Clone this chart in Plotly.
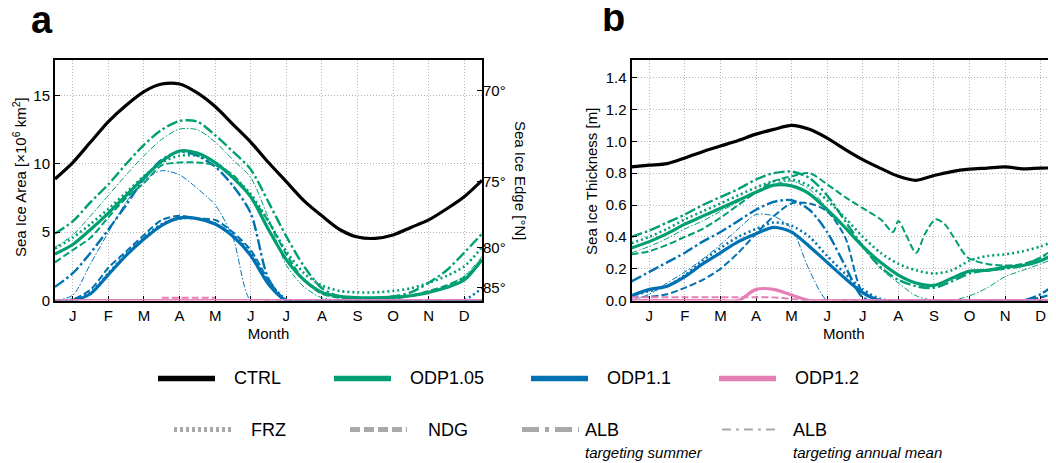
import math
import plotly.graph_objects as go

# the page body adds an 8 px left margin (vertical offset measured as 0),
# so the figure is laid out in reference pixels shifted by OFF_X
OFF_X, OFF_Y = 8, 0
W, H = 1056 - OFF_X, 463 - OFF_Y

MONTHS = ["J", "F", "M", "A", "M", "J", "J", "A", "S", "O", "N", "D"]
MONTH_TICKS = [0.5, 1.5, 2.5, 3.5, 4.5, 5.5, 6.5, 7.5, 8.5, 9.5, 10.5, 11.5]
EDGE_LATS = [70, 75, 80, 85]

# ---------------- panel a : sea-ice area (10^6 km^2) ----------------
X_A = [0, 0.5, 1, 1.5, 2, 2.5, 3, 3.5, 4, 4.5, 5, 5.5, 6, 6.5, 7, 7.5, 8, 8.5, 9, 9.5, 10, 10.5, 11, 11.5, 12]

ctrl_area = [8.9, 10.1, 11.6, 13.1, 14.3, 15.3, 15.85, 15.85, 15.2, 14.2, 12.9, 11.6, 10.1, 8.7, 7.3, 6.2, 5.2, 4.65, 4.55, 4.8, 5.35, 5.9, 6.7, 7.6, 8.8]

odp105_area = [3.4, 4.1, 5.2, 6.4, 7.7, 9.0, 10.2, 10.95, 10.8, 10.1, 9.0, 7.6, 5.2, 3.0, 1.5, 0.6, 0.3, 0.2, 0.2, 0.25, 0.35, 0.6, 0.95, 1.5, 3.0]
odp105_frz_area = [3.8, 4.6, 5.6, 6.7, 7.9, 9.1, 10.1, 10.6, 10.6, 10.1, 9.1, 7.8, 5.8, 3.6, 2.0, 1.1, 0.7, 0.6, 0.6, 0.7, 0.9, 1.3, 1.8, 2.5, 3.9]
odp105_ndg_area = [2.8, 3.7, 4.6, 6.1, 7.5, 8.6, 9.9, 10.1, 10.1, 9.9, 9.2, 7.6, 5.8, 3.4, 1.5, 0.5, 0.2, 0.15, 0.15, 0.2, 0.35, 0.7, 1.1, 1.7, 2.9]
odp105_albs_area = [4.9, 5.8, 7.2, 8.5, 10.0, 11.4, 12.5, 13.15, 13.1, 12.1, 10.9, 9.6, 7.2, 4.7, 2.5, 0.9, 0.3, 0.2, 0.2, 0.3, 0.6, 1.3, 2.2, 3.5, 4.9]
odp105_alba_area = [3.9, 4.8, 6.2, 7.7, 9.2, 10.6, 11.8, 12.55, 12.5, 11.6, 10.3, 9.0, 6.0, 2.6, 1.0, 0.2, 0.05, 0.05, 0.05, 0.1, 0.3, 0.6, 1.1, 1.8, 3.2]

odp11_area = [0, 0.02, 0.5, 1.9, 3.3, 4.5, 5.5, 6.05, 6.0, 5.6, 4.7, 3.3, 1.2, 0, 0, 0, 0, 0, 0, 0, 0, 0, 0, 0, 0]
odp11_frz_area = [0, 0.05, 0.6, 2.0, 3.4, 4.6, 5.6, 6.0, 6.0, 5.6, 4.8, 3.5, 1.4, 0.1, 0, 0, 0, 0, 0, 0, 0, 0, 0, 0.05, 0.9]
odp11_ndg_area = [0, 0.1, 0.8, 2.4, 3.6, 4.8, 5.9, 6.2, 6.0, 5.9, 5.0, 3.7, 1.5, 0, 0, 0, 0, 0, 0, 0, 0, 0, 0, 0, 0]
odp11_albs_area = [1.0, 2.0, 3.5, 5.2, 7.0, 8.9, 10.3, 10.9, 10.6, 9.8, 8.4, 6.4, 1.6, 0, 0, 0, 0, 0, 0, 0, 0, 0, 0, 0, 0]
odp11_alba_area = [0, 0.4, 2.7, 5.0, 7.2, 8.8, 9.5, 9.2, 8.2, 7.0, 4.6, 0, 0, 0, 0, 0, 0, 0, 0, 0, 0, 0, 0, 0, 0]

odp12_area = [0, 0, 0, 0, 0, 0, 0, 0, 0, 0, 0, 0, 0, 0, 0, 0, 0, 0, 0, 0, 0, 0, 0, 0, 0]
odp12_ndg_area = [None, None, None, None, None, None, 0.2, 0.2, 0.2, 0.2, None, None, None, None, None, None, None, None, None, None, None, None, None, None, None]

# ---------------- panel b : sea-ice thickness (m) ----------------
X_B = [0, 0.5, 1, 1.5, 2, 2.5, 3, 3.5, 4, 4.5, 5, 5.5, 6, 6.5, 7, 7.5, 8, 8.5, 9, 9.5, 10, 10.5, 11, 11.5, 11.95]

ctrl_thk = [0.84, 0.85, 0.86, 0.895, 0.935, 0.97, 1.005, 1.045, 1.075, 1.10, 1.075, 1.02, 0.95, 0.885, 0.83, 0.78, 0.755, 0.785, 0.81, 0.825, 0.832, 0.84, 0.827, 0.832, 0.832]

odp105_thk = [0.33, 0.37, 0.42, 0.48, 0.53, 0.58, 0.63, 0.68, 0.725, 0.72, 0.67, 0.57, 0.46, 0.34, 0.24, 0.16, 0.11, 0.095, 0.14, 0.185, 0.19, 0.21, 0.22, 0.25, 0.30]
odp105_frz_thk = [0.36, 0.40, 0.45, 0.51, 0.56, 0.61, 0.66, 0.71, 0.75, 0.76, 0.72, 0.63, 0.52, 0.40, 0.30, 0.23, 0.19, 0.17, 0.19, 0.25, 0.28, 0.29, 0.31, 0.34, 0.38]
odp105_albs_thk = [0.40, 0.44, 0.49, 0.54, 0.60, 0.65, 0.70, 0.76, 0.80, 0.81, 0.77, 0.66, 0.50, 0.34, 0.21, 0.13, 0.09, 0.08, 0.12, 0.17, 0.19, 0.20, 0.22, 0.27, 0.33]
odp105_alba_thk = [0.30, 0.34, 0.39, 0.45, 0.50, 0.56, 0.62, 0.68, 0.73, 0.75, 0.70, 0.58, 0.45, 0.33, 0.20, 0.11, 0.03, 0, 0, 0.03, 0.08, 0.15, 0.19, 0.23, 0.27]
X_B_NDG = [0, 0.5, 1, 1.5, 2, 2.5, 3, 3.5, 4, 4.5, 5, 5.5, 6, 6.5, 7, 7.35, 7.5, 7.7, 8.0, 8.25, 8.55, 8.8, 9.05, 9.45, 10, 10.5, 11, 11.5, 11.95]
odp105_ndg_thk = [0.29, 0.31, 0.35, 0.40, 0.45, 0.52, 0.60, 0.68, 0.75, 0.78, 0.80, 0.73, 0.65, 0.58, 0.51, 0.43, 0.50, 0.42, 0.30, 0.42, 0.51, 0.48, 0.40, 0.27, 0.23, 0.22, 0.23, 0.27, 0.34]

odp11_thk = [0.03, 0.07, 0.09, 0.15, 0.23, 0.30, 0.37, 0.42, 0.46, 0.43, 0.34, 0.24, 0.14, 0.05, 0, 0, 0, 0, 0, 0, 0, 0, 0, 0, 0]
odp11_frz_thk = [0.03, 0.06, 0.09, 0.16, 0.25, 0.33, 0.40, 0.45, 0.49, 0.47, 0.40, 0.28, 0.17, 0.07, 0.01, 0, 0, 0, 0, 0, 0, 0, 0, 0, 0]
odp11_ndg_thk = [0.02, 0.025, 0.04, 0.08, 0.13, 0.20, 0.30, 0.42, 0.53, 0.61, 0.61, 0.56, 0.40, 0.05, 0, 0, 0, 0, 0, 0, 0, 0, 0, 0.02, 0.05]
odp11_albs_thk = [0.12, 0.18, 0.24, 0.30, 0.37, 0.43, 0.50, 0.57, 0.62, 0.63, 0.57, 0.43, 0.22, 0.02, 0, 0, 0, 0, 0, 0, 0, 0, 0, 0.04, 0.11]
odp11_alba_thk = [0.0, 0.04, 0.11, 0.18, 0.26, 0.35, 0.45, 0.54, 0.53, 0.45, 0.19, 0, 0, 0, 0, 0, 0, 0, 0, 0, 0, 0, 0, 0, 0]

odp12_thk = [0, 0, 0, 0, 0, 0, 0, 0.07, 0.07, 0.035, 0, 0, 0, 0, 0, 0, 0, 0, 0, 0, 0, 0, 0, 0, 0]
odp12_ndg_thk = [0.02, 0.02, 0.02, 0.02, 0.02, 0.02, 0.02, 0.02, 0.02, 0.01, 0, 0, 0, 0, 0, 0, 0, 0, 0, 0, 0, 0, 0, 0, 0]

# ---------------- styles ----------------
BLACK = "#000000"
GREEN = "#009E73"
BLUE = "#0072B2"
PINK = "#E57FB5"
GREY = "#a9a9a9"
FONT = "Liberation Sans"

STY = {
    "ctrl": dict(width=3.2, dash="solid"),
    "base": dict(width=3.2, dash="solid"),
    "frz": dict(width=2.6, dash="2px,3px"),
    "ndg": dict(width=2.0, dash="7px,3px"),
    "albs": dict(width=2.4, dash="11px,3px,2.5px,3px"),
    "alba": dict(width=1.0, dash="6px,2px,1.5px,2px"),
}

fig = go.Figure()


def add(x, y, color, sty, xa, ya):
    fig.add_trace(go.Scatter(
        x=x, y=y, mode="lines", xaxis=xa, yaxis=ya,
        line=dict(color=color, width=STY[sty]["width"], dash=STY[sty]["dash"],
                  shape="spline", smoothing=0.8),
        showlegend=False, hoverinfo="skip"))


# panel a
for y, c, s in [
    (odp11_alba_area, BLUE, "alba"), (odp11_albs_area, BLUE, "albs"),
    (odp11_ndg_area, BLUE, "ndg"), (odp11_frz_area, BLUE, "frz"), (odp11_area, BLUE, "base"),
    (odp105_alba_area, GREEN, "alba"), (odp105_albs_area, GREEN, "albs"),
    (odp105_ndg_area, GREEN, "ndg"), (odp105_frz_area, GREEN, "frz"), (odp105_area, GREEN, "base"),
    (odp12_area, PINK, "base"), (odp12_ndg_area, PINK, "ndg"),
]:
    add(X_A, y, c, s, "x", "y")
# CTRL drawn against the overlaid latitude axis (same range), so that axis is shown
add(X_A, ctrl_area, BLACK, "ctrl", "x", "y2")

# panel b
for x, y, c, s in [
    (X_B, odp11_alba_thk, BLUE, "alba"), (X_B, odp11_albs_thk, BLUE, "albs"),
    (X_B, odp11_ndg_thk, BLUE, "ndg"), (X_B, odp11_frz_thk, BLUE, "frz"), (X_B, odp11_thk, BLUE, "base"),
    (X_B, odp105_alba_thk, GREEN, "alba"), (X_B, odp105_albs_thk, GREEN, "albs"),
    (X_B_NDG, odp105_ndg_thk, GREEN, "ndg"), (X_B, odp105_frz_thk, GREEN, "frz"), (X_B, odp105_thk, GREEN, "base"),
    (X_B, odp12_thk, PINK, "base"), (X_B, odp12_ndg_thk, PINK, "ndg"),
    (X_B, ctrl_thk, BLACK, "ctrl"),
]:
    add(x, y, c, s, "x2", "y3")


# ice-edge latitude -> polar cap area (10^6 km^2)
def cap_area(lat):
    R = 6371.0
    return 2 * math.pi * R * R * (1 - math.sin(math.radians(lat))) / 1e6


def px(x):
    return (x - OFF_X) / W


def py(y):
    return 1 - (y - OFF_Y) / H


A_RANGE = [0, 17.6]
B_RANGE = [0, 1.51]
dom_y = [py(297.7), py(53)]

grid = dict(showgrid=True, gridcolor="#b4b4b4", griddash="1px,2px", gridwidth=1)
tickfont = dict(family=FONT, size=15, color="black")
xcommon = dict(range=[0, 12], tickmode="array", tickvals=MONTH_TICKS, ticktext=MONTHS,
               ticks="inside", ticklen=5, tickwidth=1.3, tickcolor="black",
               showline=True, linewidth=2, linecolor="black", mirror=True,
               tickfont=tickfont, zeroline=False, layer="below traces",
               title=dict(text="Month", font=dict(family=FONT, size=15, color="black"), standoff=6),
               **grid)

fig.update_layout(
    width=W, height=H, margin=dict(l=0, r=0, t=0, b=0),
    paper_bgcolor="white", plot_bgcolor="white",
    font=dict(family=FONT, color="black"),
    xaxis=dict(domain=[px(55), px(482)], anchor="y", **xcommon),
    yaxis=dict(domain=dom_y, anchor="x", range=A_RANGE, tickvals=[0, 5, 10, 15],
               ticks="inside", ticklen=5, tickwidth=1.3, tickcolor="black",
               showline=True, linewidth=2, linecolor="black", mirror=True,
               tickfont=tickfont, zeroline=False, **grid),
    yaxis2=dict(overlaying="y", side="right", anchor="x", range=A_RANGE,
                tickmode="array", tickvals=[cap_area(l) for l in EDGE_LATS],
                ticktext=[f"{l}°" for l in EDGE_LATS],
                ticks="inside", ticklen=5, tickwidth=1.3, tickcolor="black",
                showgrid=False, showline=False, zeroline=False, tickfont=tickfont),
    xaxis2=dict(domain=[px(631.5), 1.0], anchor="y3",
                **{**xcommon, "range": [0, (1056 - 631.5) / 35.58]}),
    yaxis3=dict(domain=dom_y, anchor="x2", range=B_RANGE,
                tickvals=[0, 0.2, 0.4, 0.6, 0.8, 1.0, 1.2, 1.4], tickformat=".1f",
                ticks="inside", ticklen=5, tickwidth=1.3, tickcolor="black",
                showline=True, linewidth=2, linecolor="black", mirror=False,
                tickfont=tickfont, zeroline=False, **grid),
)

ann = []
# panel letters
ann.append(dict(text="<b>a</b>", x=px(42), y=py(12), xref="paper", yref="paper",
                showarrow=False, font=dict(family=FONT, size=38, color="black"),
                xanchor="center", yanchor="middle"))
ann.append(dict(text="<b>b</b>", x=px(613), y=py(10), xref="paper", yref="paper",
                showarrow=False, font=dict(family=FONT, size=38, color="black"),
                xanchor="center", yanchor="middle"))
# axis titles
ann.append(dict(text="Sea Ice Area [×10<sup>6</sup> km<sup>2</sup>]", x=px(19), y=py(172),
                xref="paper", yref="paper", showarrow=False, textangle=-90,
                font=dict(family=FONT, size=15, color="black"), xanchor="center", yanchor="middle"))
ann.append(dict(text="Sea Ice Edge [°N]", x=px(520), y=py(175),
                xref="paper", yref="paper", showarrow=False, textangle=90,
                font=dict(family=FONT, size=15, color="black"), xanchor="center", yanchor="middle"))
ann.append(dict(text="Sea Ice Thickness [m]", x=px(592), y=py(177),
                xref="paper", yref="paper", showarrow=False, textangle=-90,
                font=dict(family=FONT, size=15, color="black"), xanchor="center", yanchor="middle"))

# legend (drawn manually)
shapes = []
LEG1_Y = 377
LEG2_Y = 429
row1 = [("CTRL", BLACK, 158, 232), ("ODP1.05", GREEN, 334, 408), ("ODP1.1", BLUE, 531, 605), ("ODP1.2", PINK, 719, 793)]
for name, col, x0, tx in row1:
    shapes.append(dict(type="line", xref="paper", yref="paper", x0=px(x0), x1=px(x0 + 57),
                       y0=py(LEG1_Y), y1=py(LEG1_Y), line=dict(color=col, width=5.5)))
    ann.append(dict(text=name, x=px(tx), y=py(LEG1_Y), xref="paper", yref="paper",
                    showarrow=False, xanchor="left", yanchor="middle",
                    font=dict(family=FONT, size=18, color="black")))

row2 = [("FRZ", None, 174, 249, dict(width=5, dash="3px,3px")),
        ("NDG", None, 350, 426, dict(width=5, dash="10px,4px")),
        ("ALB", "targeting summer", 522, 583, dict(width=5, dash="17px,6px,4px,6px")),
        ("ALB", "targeting annual mean", 722, 791, dict(width=2, dash="9px,5px,3px,5px"))]
for name, sub, x0, tx, ls in row2:
    shapes.append(dict(type="line", xref="paper", yref="paper", x0=px(x0), x1=px(x0 + 57),
                       y0=py(LEG2_Y), y1=py(LEG2_Y), line=dict(color=GREY, **ls)))
    ann.append(dict(text=name, x=px(tx), y=py(LEG2_Y), xref="paper", yref="paper",
                    showarrow=False, xanchor="left", yanchor="middle",
                    font=dict(family=FONT, size=18, color="black")))
    if sub:
        ann.append(dict(text=f"<i>{sub}</i>", x=px(tx), y=py(452), xref="paper", yref="paper",
                        showarrow=False, xanchor="left", yanchor="middle",
                        font=dict(family=FONT, size=15, color="black")))

fig.update_layout(annotations=ann, shapes=shapes)
fig.write_html("out.html")
